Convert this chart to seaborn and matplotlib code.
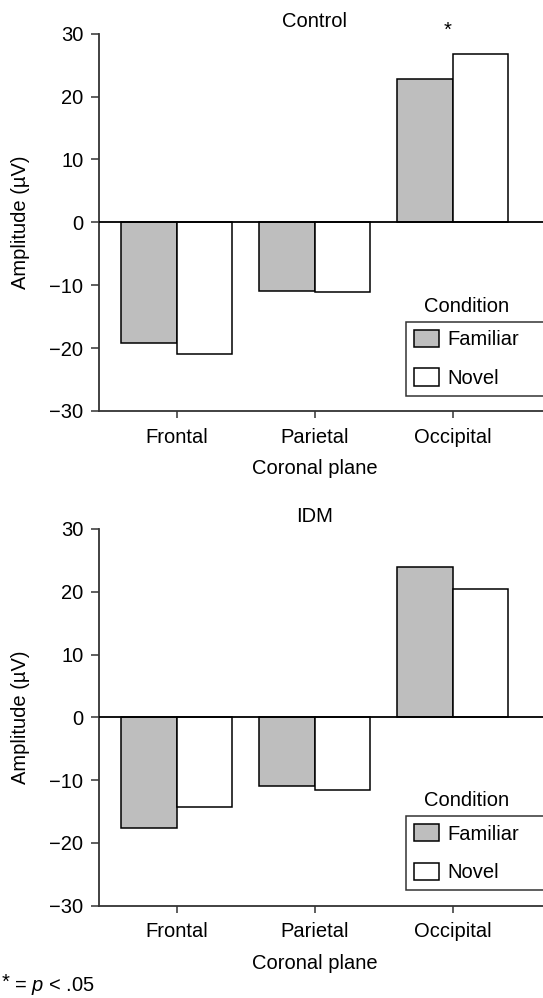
import matplotlib
matplotlib.use("Agg")
import matplotlib.pyplot as plt
import seaborn as sns
import pandas as pd
from matplotlib.patches import Patch

# Mean ERP amplitudes (µV) by coronal region and stimulus condition
regions = ["Frontal", "Parietal", "Occipital"]
conditions = ["Familiar", "Novel"]
control_familiar = [-19.2, -10.9, 22.8]
control_novel = [-20.9, -11.1, 26.7]
idm_familiar = [-17.6, -10.9, 23.9]
idm_novel = [-14.2, -11.6, 20.4]
yticks = [-30, -20, -10, 0, 10, 20, 30]

colors = {"Familiar": "#bebebe", "Novel": "#ffffff"}

sns.set_theme(style="ticks")
plt.rcParams["font.family"] = ["Liberation Sans", "DejaVu Sans"]
plt.rcParams["mathtext.fontset"] = "custom"
plt.rcParams["mathtext.rm"] = "Liberation Sans"
plt.rcParams["mathtext.it"] = "Liberation Sans:italic"
for key in ("text.color", "axes.labelcolor", "xtick.labelcolor", "ytick.labelcolor"):
    plt.rcParams[key] = "black"

FS = 14.5
W, H = 543, 998
fig = plt.figure(figsize=(W / 100, H / 100), dpi=100)

XMIN, XMAX = -0.565, 2.72
ax_left = 98.7 / W
ax_width = (XMAX - XMIN) * 138 / W


def frame(fam, nov):
    return pd.DataFrame({
        "Region": regions * 2,
        "Condition": ["Familiar"] * 3 + ["Novel"] * 3,
        "Amplitude": list(fam) + list(nov),
    })


def panel(top_px, bottom_px, title, fam, nov, legend_top_px, star=False):
    ax = fig.add_axes([ax_left, 1 - bottom_px / H, ax_width, (bottom_px - top_px) / H])
    data = frame(fam, nov)
    sns.barplot(data=data, x="Region", y="Amplitude", hue="Condition",
                order=regions, hue_order=conditions, palette=colors,
                edgecolor="black", linewidth=1.1, width=0.8,
                errorbar=None, legend=False, ax=ax, zorder=2)
    ax.axhline(0, color="black", lw=1.3, zorder=3)
    ax.set_xlim(XMIN, XMAX)
    ax.set_ylim(-30, 30)
    ax.set_yticks(yticks)
    ax.set_yticklabels([f"{v}".replace("-", "\u2212") for v in yticks])
    for s in ("top", "right"):
        ax.spines[s].set_visible(False)
    for s in ("left", "bottom"):
        ax.spines[s].set_color("#333333")
        ax.spines[s].set_linewidth(1.3)
    ax.tick_params(axis="y", length=6, width=1.1, pad=5, labelsize=FS, color="#333333")
    ax.tick_params(axis="x", length=5, width=1.1, pad=7, labelsize=FS, color="#333333")
    ax.set_xlabel("Coronal plane", fontsize=FS)
    ax.set_ylabel("")
    xc = (1 - XMIN) / (XMAX - XMIN)
    ax.xaxis.set_label_coords(xc, -0.128)
    ax.set_title(title, fontsize=FS, x=xc, pad=5)
    mid_px = (top_px + bottom_px) / 2
    fig.text(21 / W, 1 - mid_px / H, "Amplitude (\u00b5V)", rotation=90,
             ha="center", va="center", fontsize=FS)
    if star:
        ax.text(1.965, 30.6, "*", ha="center", va="center", fontsize=FS, clip_on=False)

    handles = [Patch(facecolor=colors[c], edgecolor="black", linewidth=1.1) for c in conditions]
    fig.text(467 / W, 1 - (legend_top_px - 15) / H, "Condition", ha="center",
             va="center", fontsize=FS)
    leg = fig.legend(handles, conditions, loc="upper left",
                     bbox_to_anchor=(405.7 / W, 1 - legend_top_px / H, 0.3, 0.0001),
                     bbox_transform=fig.transFigure, mode="expand",
                     borderaxespad=0, fontsize=FS, frameon=True, fancybox=False,
                     handlelength=1.25, handleheight=0.95, handletextpad=0.4,
                     labelspacing=0.95, borderpad=0.4)
    leg.get_frame().set_edgecolor("black")
    leg.get_frame().set_linewidth(1.1)
    return ax


panel(33.7, 411, "Control", control_familiar, control_novel, 321.7, star=True)
panel(529, 905.7, "IDM", idm_familiar, idm_novel, 816)

# significance footnote
fig.text(2 / W, 1 - 982 / H, "*", ha="left", va="center", fontsize=FS)
fig.text(14 / W, 1 - 986 / H, r"= $p$ < .05", ha="left", va="center", fontsize=FS)

fig.savefig("out.png", dpi=100)
